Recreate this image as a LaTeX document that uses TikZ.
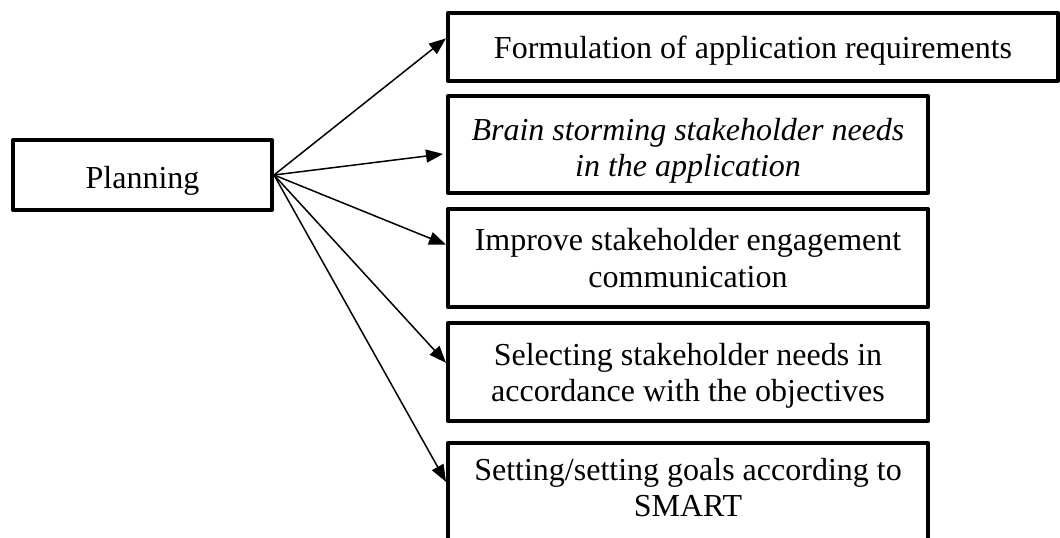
\documentclass[tikz,border=0pt]{standalone}
\usepackage{fontspec}
\setmainfont{Liberation Serif}
\usetikzlibrary{arrows.meta,calc}
\newcommand\tstrut[1]{\rule{0pt}{#1}}
\newcommand\bstrut[1]{\rule[-#1]{0pt}{0pt}}
\begin{document}
\begin{tikzpicture}[x=1pt,y=-1pt,
  tbox/.style={draw=black, line width=4pt, line join=round, inner sep=0pt,
    align=center, font=\fontsize{32}{36.8}\selectfont, text=black},
  conn/.style={draw=black, line width=1.5pt, -{Triangle[length=17pt,width=13pt]}}]
\useasboundingbox (0,0) rectangle (1060,538);
\node[tbox, minimum width=259pt, minimum height=70pt] (plan) at (142.5,175) {\tstrut{33pt}Planning};
\node[tbox, minimum width=610pt, minimum height=68pt] (form) at (753,47) {\tstrut{29pt}Formulation of application requirements};
\node[tbox, minimum width=480pt, minimum height=97pt] (brain) at (688,144.5) {\itshape\tstrut{34.8pt}Brain storming stakeholder needs\\\itshape in the application};
\node[tbox, minimum width=480pt, minimum height=98pt] (impr) at (688,258) {Improve stakeholder engagement\\communication};
\node[tbox, minimum width=480pt, minimum height=98pt] (sel) at (688,372) {\tstrut{29.8pt}Selecting stakeholder needs in\\accordance with the objectives};
\node[tbox, minimum width=480pt, minimum height=98pt] (set) at (688,492) {Setting/setting goals according to\\SMART\bstrut{9.1pt}};
\draw[conn] (plan.east) -- ($(form.north west)!0.38!(form.south west)$);
\draw[conn, shorten >=3pt] (plan.east) -- ($(brain.north west)!0.59!(brain.south west)$);
\draw[conn] (plan.east) -- ($(impr.north west)!0.37!(impr.south west)$);
\draw[conn] (plan.east) -- ($(sel.north west)!0.41!(sel.south west)$);
\draw[conn] (plan.east) -- ($(set.north west)!0.40!(set.south west)$);
\end{tikzpicture}
\end{document}
